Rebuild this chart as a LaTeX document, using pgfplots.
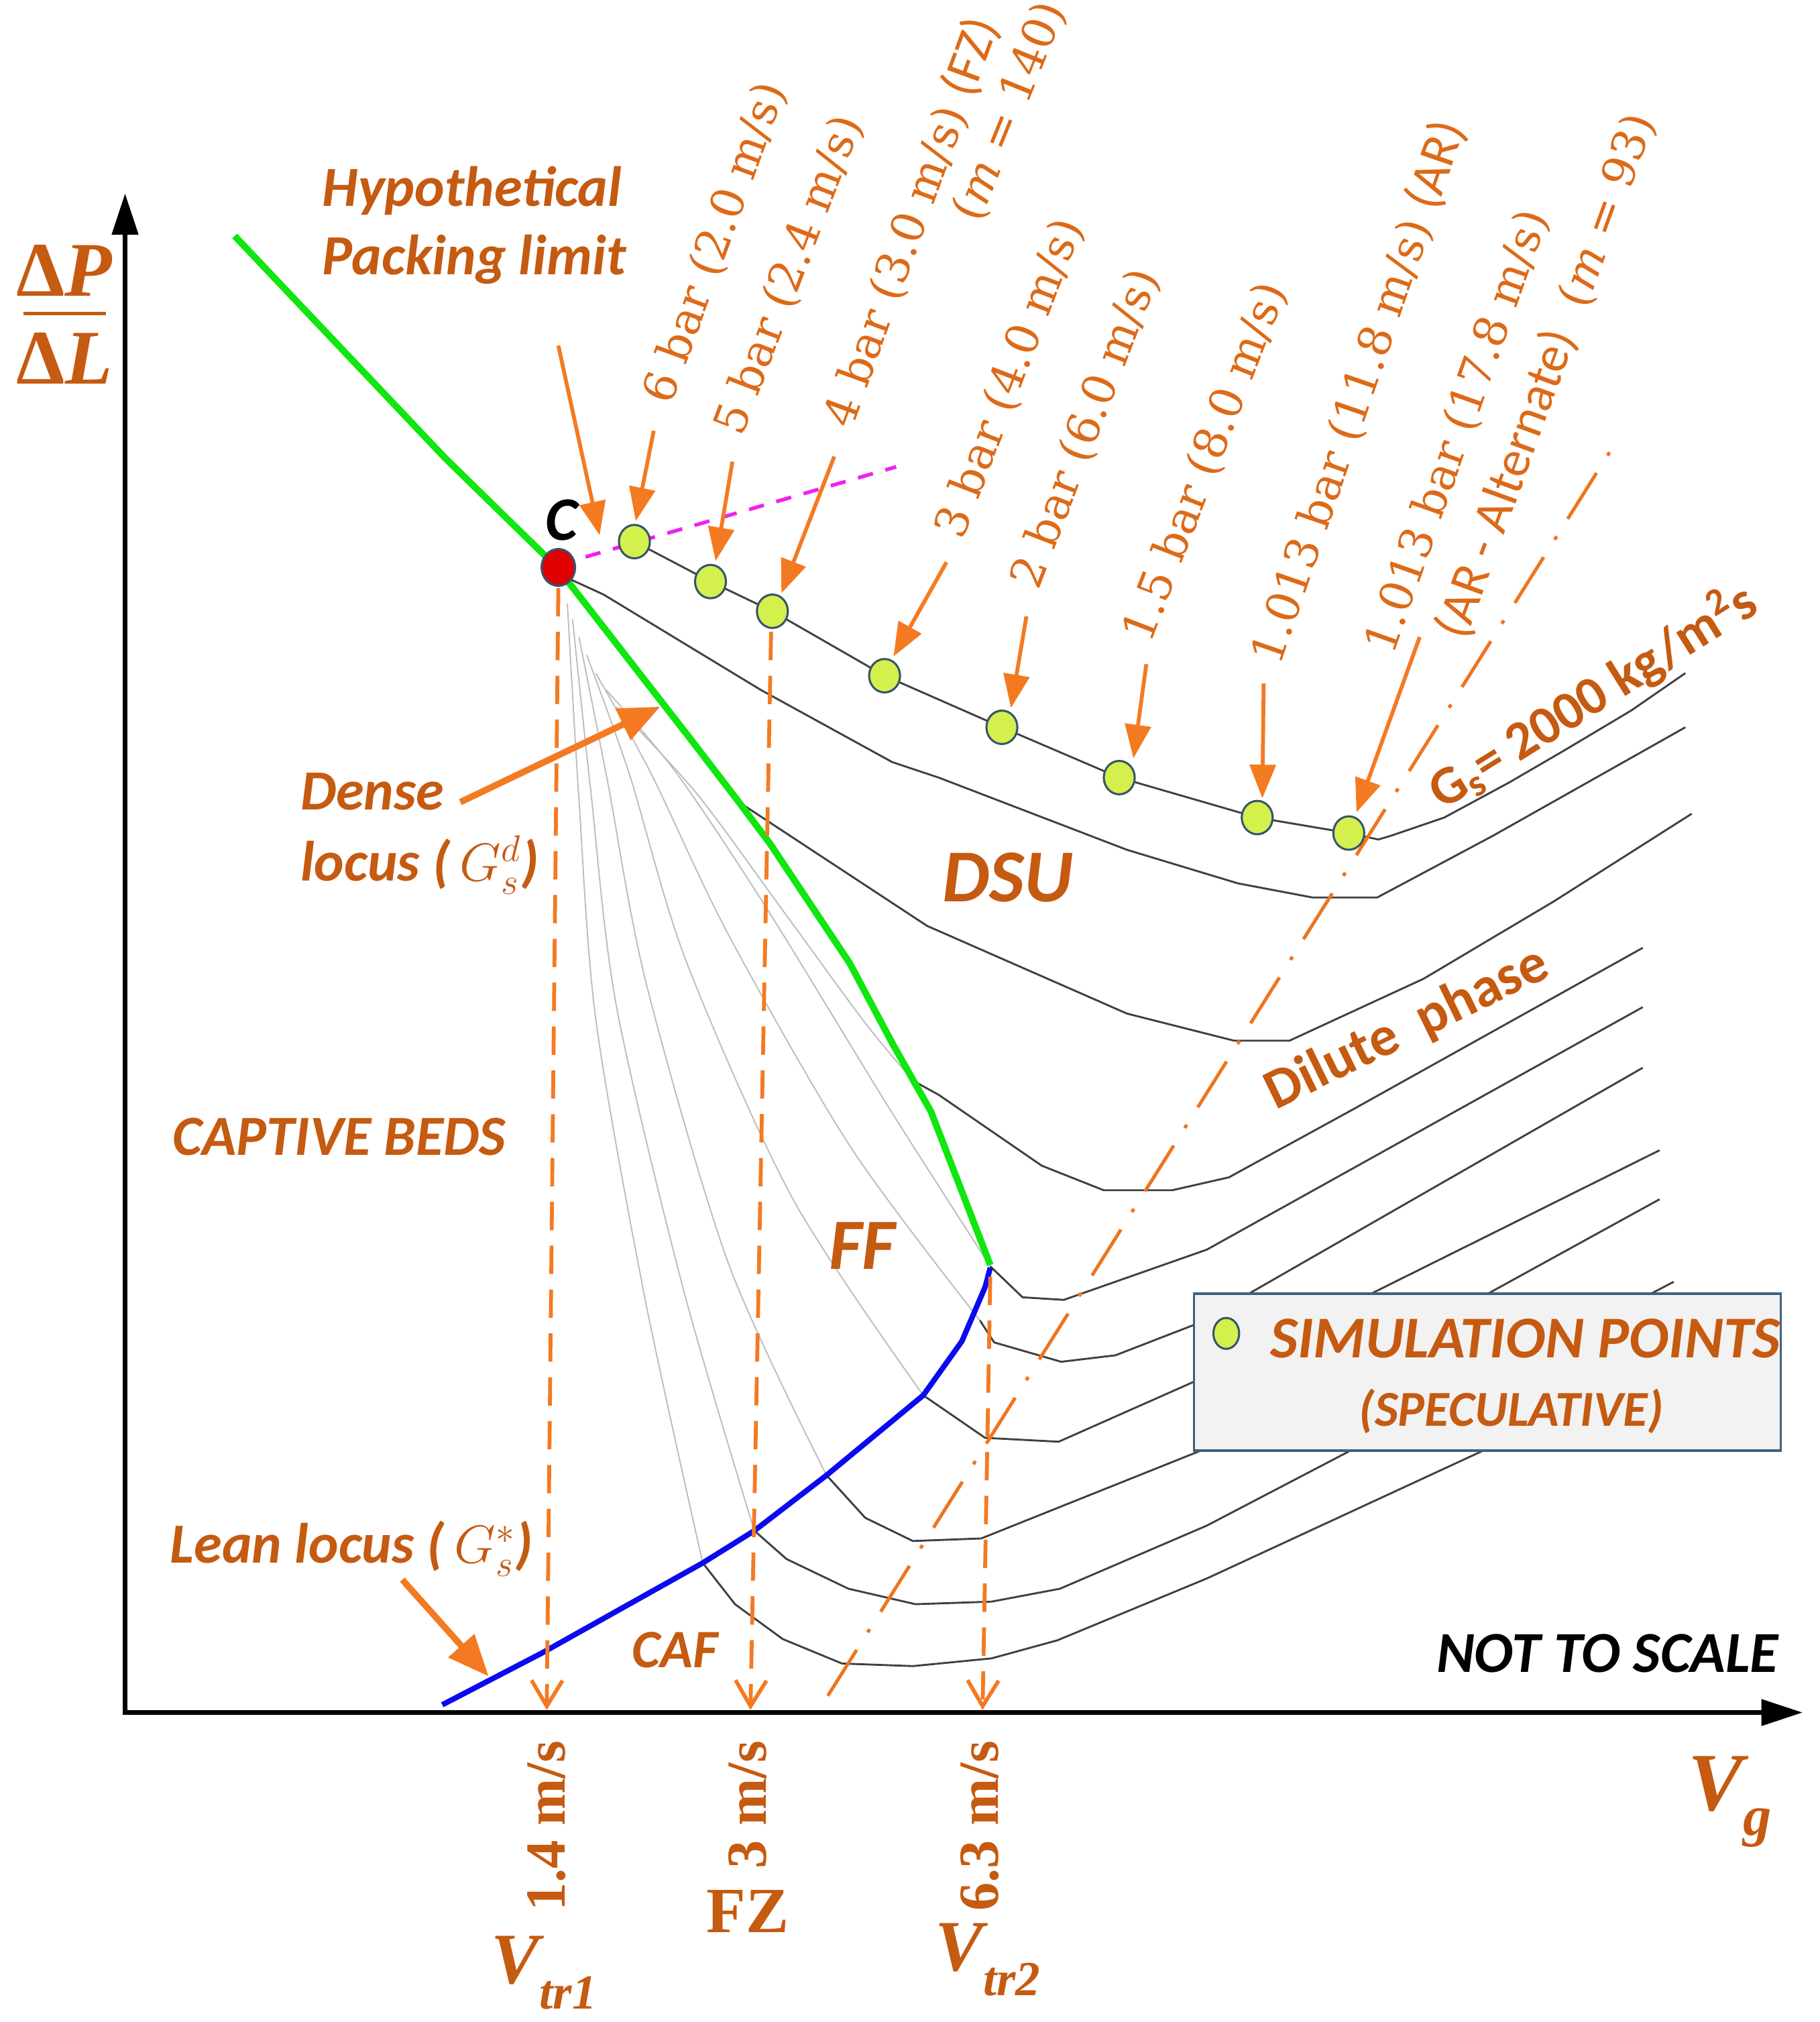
\documentclass[border=0pt]{standalone}
\usepackage{pgfplots}
\pgfplotsset{compat=1.18}
\usepackage{fontspec}
\setmainfont{Carlito}
\newfontfamily\serif{Liberation Serif}
\newfontfamily\dserif{DejaVu Serif}
\usetikzlibrary{arrows.meta}
\definecolor{torange}{HTML}{C55A11}
\definecolor{rorange}{HTML}{DD6A18}
\definecolor{lorange}{HTML}{F47A22}
\definecolor{lgreen}{HTML}{10E610}
\definecolor{lblue}{HTML}{0A0AF0}
\definecolor{simfill}{HTML}{D4F04C}
\definecolor{simdraw}{HTML}{35556E}
\definecolor{curvegray}{HTML}{404040}
\definecolor{fangray}{HTML}{BDBDBD}
\definecolor{legbg}{HTML}{F2F2F2}
\definecolor{legdraw}{HTML}{3F617D}
\definecolor{pmag}{HTML}{F020F0}
\newcommand{\fs}[1]{\fontsize{#1}{#1}\selectfont}
\begin{document}
\begin{tikzpicture}
\begin{axis}[name=ax, width=705.5pt, height=784pt, scale only axis,
  xmin=0, xmax=1411, ymin=0, ymax=1568, y dir=reverse, hide axis, clip=false]

% grey fan lines
\addplot[fangray, line width=0.5pt, smooth] coordinates {(478,548) (540,615) (610,710) (670,792) (708,838)};
\addplot[fangray, line width=0.5pt, smooth] coordinates {(470,535) (525,600) (595,705) (690,860) (768,982)};
\addplot[fangray, line width=0.5pt, smooth] coordinates {(462,522) (505,600) (565,725) (660,890) (760,1024)};
\addplot[fangray, line width=0.5pt, smooth] coordinates {(455,508) (488,600) (532,745) (615,930) (716,1082)};
\addplot[fangray, line width=0.5pt, smooth] coordinates {(449,494) (471,605) (501,762) (565,980) (641,1144)};
\addplot[fangray, line width=0.5pt, smooth] coordinates {(444,480) (458,612) (478,780) (530,1000) (585,1187)};
\addplot[fangray, line width=0.5pt, smooth] coordinates {(440,468) (449,620) (462,790) (500,1006) (545,1212)};

% black Gs curves
\addplot[curvegray, line width=0.75pt] coordinates {(492,420) (551,451) (599,474) (686,524) (777,564) (868,603) (975,634) (1046,646) (1069,651) (1079,648) (1120,634) (1170,607) (1213,582) (1265,551) (1307,522)};
\addplot[curvegray, line width=0.75pt] coordinates {(433,445) (468,461) (590,535) (692,591) (728,603) (874,659) (960,685) (1018,696) (1068,696) (1158,648) (1307,564)};
\addplot[curvegray, line width=0.75pt] coordinates {(573,622) (719,718) (874,786) (957,807) (1000,807) (1104,759) (1205,699) (1312,631)};
\addplot[curvegray, line width=0.75pt] coordinates {(708,838) (728,849) (808,904) (856,923) (909,923) (953,913) (1048,861) (1274,735)};
\addplot[curvegray, line width=0.75pt] coordinates {(768,982) (793,1006) (825,1008) (936,969) (1274,781)};
\addplot[curvegray, line width=0.75pt] coordinates {(760,1024) (771,1041) (823,1056) (865,1051) (927,1027) (1274,828)};
\addplot[curvegray, line width=0.75pt] coordinates {(716,1082) (764,1115) (821,1118) (927,1071) (1287,892)};
\addplot[curvegray, line width=0.75pt] coordinates {(641,1144) (671,1177) (708,1195) (761,1193) (936,1123) (1287,930)};
\addplot[curvegray, line width=0.75pt] coordinates {(585,1187) (610,1209) (658,1232) (710,1244) (769,1242) (822,1232) (936,1183) (1298,994)};
\addplot[curvegray, line width=0.75pt] coordinates {(545,1212) (570,1244) (607,1271) (653,1290) (708,1292) (769,1286) (820,1272) (936,1224) (1150,1125) (1300,1055)};

% dense locus (green) and lean locus (blue)
\addplot[lgreen, line width=2.6pt] coordinates {(182,183) (345,355) (432,440) (537,575) (573,622) (597,654) (659,747) (692,809) (722,862) (768,981)};
\addplot[lblue, line width=2.1pt] coordinates {(343,1322) (420,1282) (545,1212) (585,1187) (641,1144) (716,1082) (746,1040) (764,998) (768,983)};

% legend box
\draw[fill=legbg, draw=legdraw, line width=1pt] (926,1003) rectangle (1381,1125);

% axes
\addplot[black, line width=1.75pt, -{Triangle[length=16pt,width=10pt]}] coordinates {(97,1330) (97,150)};
\addplot[black, line width=1.75pt, -{Triangle[length=16pt,width=10pt]}] coordinates {(95,1328) (1398,1328)};

% vertical dashed lines
\addplot[lorange, line width=1.5pt, dash pattern=on 11pt off 6pt, -{Straight Barb[length=10pt,width=12pt]}] coordinates {(433,456) (424,1326)};
\addplot[lorange, line width=1.5pt, dash pattern=on 11pt off 6pt, -{Straight Barb[length=10pt,width=12pt]}] coordinates {(598,490) (582,1326)};
\addplot[lorange, line width=1.5pt, dash pattern=on 11pt off 6pt, -{Straight Barb[length=10pt,width=12pt]}] coordinates {(768,990) (762,1326)};

% dash-dot line
\addplot[lorange!85!torange, line width=1.3pt, dash pattern=on 21pt off 8pt on 1.5pt off 8pt] coordinates {(642,1315) (1255,340)};

% packing limit (magenta)
\addplot[pmag, line width=1.4pt, dash pattern=on 6pt off 5pt] coordinates {(433,438) (695,362)};

% arrows
\addplot[lorange, line width=1.5pt, -{Triangle[length=13pt,width=10pt]}] coordinates {(433,268) (465,415)};
\addplot[lorange, line width=1.5pt, -{Triangle[length=13pt,width=10pt]}] coordinates {(507,334) (493,404)};
\addplot[lorange, line width=1.5pt, -{Triangle[length=13pt,width=10pt]}] coordinates {(568,358) (555,435)};
\addplot[lorange, line width=1.5pt, -{Triangle[length=13pt,width=10pt]}] coordinates {(647,354) (606,460)};
\addplot[lorange, line width=1.5pt, -{Triangle[length=13pt,width=10pt]}] coordinates {(734,436) (693,509)};
\addplot[lorange, line width=1.5pt, -{Triangle[length=13pt,width=10pt]}] coordinates {(796,478) (784,549)};
\addplot[lorange, line width=1.5pt, -{Triangle[length=13pt,width=10pt]}] coordinates {(889,515) (879,588)};
\addplot[lorange, line width=1.5pt, -{Triangle[length=13pt,width=10pt]}] coordinates {(980,530) (979,619)};
\addplot[lorange, line width=1.5pt, -{Triangle[length=13pt,width=10pt]}] coordinates {(1101,494) (1052,630)};
\addplot[lorange, line width=2.5pt, -{Triangle[length=16pt,width=13pt]}] coordinates {(357,622) (512,548)};
\addplot[lorange, line width=2.5pt, -{Triangle[length=16pt,width=13pt]}] coordinates {(312,1225) (379,1300)};

% simulation points
\addplot[only marks, mark=*, mark size=6pt, mark options={fill=simfill, draw=simdraw, line width=0.8pt, yscale=1.08}] coordinates {(492,420) (551,451) (599,474) (686,524) (777,564) (868,603) (975,634) (1046,646)};
\addplot[only marks, mark=*, mark size=6.5pt, mark options={fill=red!88!black, draw=simdraw, line width=0.8pt, yscale=1.1}] coordinates {(433,440)};
\addplot[only marks, mark=*, mark size=5pt, mark options={fill=simfill, draw=simdraw, line width=0.8pt, yscale=1.2}] coordinates {(951,1034)};

% texts
\node[anchor=base west, text=torange, font=\bfseries\itshape\fs{22}] at (243,160) {Hypothetical};
\node[anchor=base west, text=torange, font=\bfseries\itshape\fs{22}] at (243,213) {Packing limit};
\node[anchor=base west, text=black, font=\bfseries\itshape\fs{24}] at (416,419) {C};
\node[anchor=base west, text=torange, font=\bfseries\itshape\fs{22}] at (226,628) {Dense};
\node[anchor=base west, text=torange, font=\bfseries\itshape\fs{22}] at (226,683) {locus (\,$G_s^d$)};
\node[anchor=base west, text=torange, font=\bfseries\itshape\fs{22}] at (127,896) {CAPTIVE BEDS};
\node[anchor=base west, text=torange, font=\bfseries\itshape\fs{29}] at (724,699) {DSU};
\node[anchor=base west, text=torange, font=\bfseries\itshape\fs{28}] at (636,984) {FF};
\node[anchor=base west, text=torange, font=\bfseries\itshape\fs{21}] at (483,1293) {CAF};
\node[anchor=base west, text=torange, font=\bfseries\itshape\fs{22}] at (125,1212) {Lean locus (\,$G_s^*$)};
\node[anchor=base west, text=black, font=\bfseries\itshape\fs{22.5}] at (1107,1297) {NOT TO SCALE};
\node[anchor=base west, text=torange, font=\bfseries\itshape\fs{23}] at (978,1053) {SIMULATION POINTS};
\node[anchor=base, text=torange, font=\bfseries\itshape\fs{19.5}] at (1172,1106) {(SPECULATIVE)};
\node[anchor=base west, rotate=26, text=torange, font=\bfseries\fs{22}] at (983,864) {Dilute\ \ phase};
\node[anchor=base west, rotate=32, text=torange, font=\bfseries\fs{21}] at (1113,632) {G\textsubscript{s}= 2000 kg/m\textsuperscript{2}s};

% rotated pressure labels
\node[anchor=west, rotate=70, text=rorange, font=\dserif\fs{17.5}] at (508,318) {6 bar (2.0 m/s)};
\node[anchor=west, rotate=69, text=rorange, font=\dserif\fs{17.5}] at (563,342) {5 bar (2.4 m/s)};
\node[anchor=west, rotate=70, text=rorange, font=\dserif\fs{17.5}] at (647,336) {4 bar (3.0 m/s) {\rmfamily\fs{20}(FZ)}};
\node[anchor=west, rotate=68, text=rorange, font=\dserif\fs{17.5}] at (747,176) {(\textit{m} = 140)};
\node[anchor=west, rotate=69, text=rorange, font=\dserif\fs{17.5}] at (734,422) {3 bar (4.0 m/s)};
\node[anchor=west, rotate=69, text=rorange, font=\dserif\fs{17.5}] at (793,461) {2 bar (6.0 m/s)};
\node[anchor=west, rotate=69, text=rorange, font=\dserif\fs{17.5}] at (880,503) {1.5 bar (8.0 m/s)};
\node[anchor=west, rotate=71, text=rorange, font=\dserif\fs{17.5}] at (979,520) {1.013 bar (11.8 m/s) {\rmfamily\fs{20}(AR)}};
\node[anchor=west, rotate=70.5, text=rorange, font=\dserif\fs{17.5}] at (1068,512) {1.013 bar (17.8 m/s)};
\node[anchor=west, rotate=70, text=rorange, font=\dserif\fs{17.5}] at (1123,500) {{\rmfamily\fs{20}(AR - Alternate)}\ \ (\textit{m} = 93)};

% axis labels
\node[text=torange, font=\serif\bfseries\fs{30}] at (50,210) {Δ\textit{P}};
\node[text=torange, font=\serif\bfseries\fs{30}] at (50,278) {Δ\textit{L}};
\draw[torange, line width=1.3pt] (18,243) -- (82,243);
\node[anchor=base west, text=torange, font=\serif\bfseries\itshape\fs{32}] at (1302,1404) {V\raisebox{-0.3em}{\fs{22}g}};

\node[anchor=east, rotate=90, text=torange, font=\serif\bfseries\fs{22}] at (424,1343) {1.4 m/s};
\node[anchor=east, rotate=90, text=torange, font=\serif\bfseries\fs{22}] at (580,1343) {3 m/s};
\node[anchor=east, rotate=90, text=torange, font=\serif\bfseries\fs{22}] at (760,1343) {6.3 m/s};
\node[text=torange, font=\serif\bfseries\fs{25}] at (580,1482) {FZ};
\node[anchor=base west, text=torange, font=\serif\bfseries\itshape\fs{28}] at (374,1538) {V\raisebox{-0.35em}{\fs{19}tr1}};
\node[anchor=base west, text=torange, font=\serif\bfseries\itshape\fs{28}] at (718,1528) {V\raisebox{-0.35em}{\fs{19}tr2}};

\end{axis}
\pgfresetboundingbox
\path (ax.south west) rectangle (ax.north east);
\end{tikzpicture}
\end{document}
